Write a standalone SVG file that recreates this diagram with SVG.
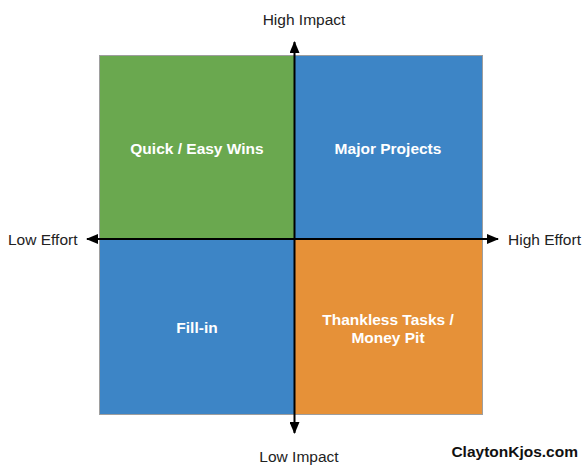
<svg xmlns="http://www.w3.org/2000/svg" width="584" height="466" viewBox="0 0 584 466">
<style>
.q{stroke:#9e9e9e;stroke-width:1}
.lbl{font-family:"Liberation Sans",Arial,sans-serif;font-size:15.5px;font-weight:bold;fill:#ffffff;text-anchor:middle}
.ax{font-family:"Liberation Sans",Arial,sans-serif;font-size:15.5px;fill:#222222}
.axl{stroke:#000;stroke-width:2;fill:none}
</style>
<defs>
<marker id="ah" viewBox="0 0 12 10" refX="11" refY="5" markerWidth="12" markerHeight="10" markerUnits="userSpaceOnUse" orient="auto">
<path d="M0,0 L12,5 L0,10 Z" fill="#000"/>
</marker>
</defs>
<rect width="584" height="466" fill="#ffffff"/>
<g id="quick">
<rect class="q" x="99.5" y="55.5" width="195" height="183" fill="#6aa84f"/>
<text class="lbl" x="197" y="154">Quick / Easy Wins</text>
</g>
<g id="major">
<rect class="q" x="294.5" y="55.5" width="188" height="183" fill="#3d85c6"/>
<text class="lbl" x="388" y="154">Major Projects</text>
</g>
<g id="fillin">
<rect class="q" x="99.5" y="238.5" width="195" height="176" fill="#3d85c6"/>
<text class="lbl" x="197" y="333">Fill-in</text>
</g>
<g id="thankless">
<rect class="q" x="294.5" y="238.5" width="188" height="176" fill="#e69138"/>
<text class="lbl" x="388" y="325">Thankless Tasks /</text>
<text class="lbl" x="388" y="343">Money Pit</text>
</g>
<g id="connectors">
<line class="axl" x1="294.5" y1="239" x2="294.5" y2="42" marker-end="url(#ah)"/>
<line class="axl" x1="294.5" y1="239" x2="294.5" y2="433" marker-end="url(#ah)"/>
<line class="axl" x1="294" y1="239" x2="87" y2="239" marker-end="url(#ah)"/>
<line class="axl" x1="294" y1="239" x2="498" y2="239" marker-end="url(#ah)"/>
</g>
<g id="labels">
<text class="ax" x="304" y="25" text-anchor="middle">High Impact</text>
<text class="ax" x="299" y="462" text-anchor="middle">Low Impact</text>
<text class="ax" x="8" y="245">Low Effort</text>
<text class="ax" x="508" y="245">High Effort</text>
<text x="578" y="457" text-anchor="end" style="font-family:'Liberation Sans',Arial,sans-serif;font-size:15.5px;font-weight:bold;fill:#111">ClaytonKjos.com</text>
</g>
</svg>
